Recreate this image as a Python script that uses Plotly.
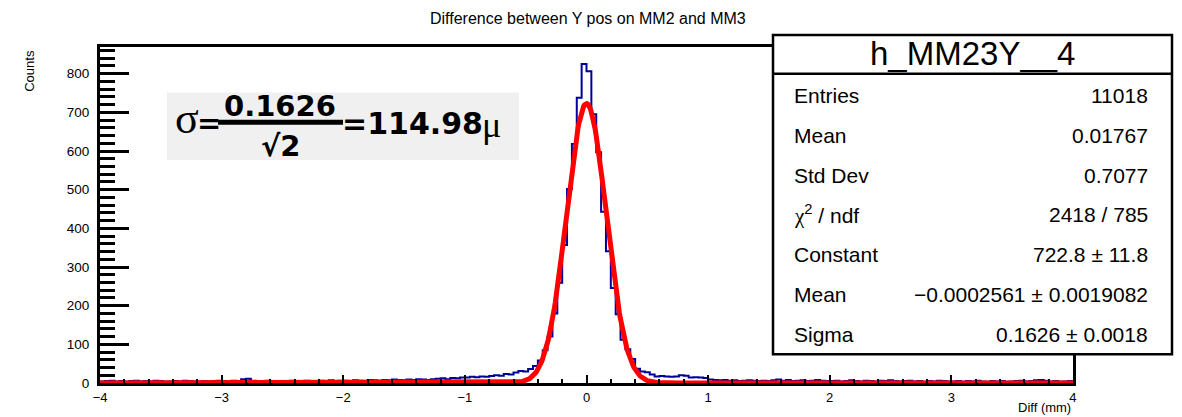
import numpy as np
import plotly.graph_objects as go

# ---------------- data ----------------
x_lo, x_hi, n_bins = -4.0, 4.0, 200

counts = [
    # -4.00 .. -3.00
    4, 5, 6, 4, 5, 3, 5, 6, 4, 5, 4, 6, 5, 3, 4, 5, 4, 6, 5, 4, 3, 5, 4, 5, 6,
    # -3.00 .. -2.00
    5, 4, 6, 5, 10, 11, 6, 4, 5, 6, 4, 5, 3, 5, 6, 4, 5, 6, 5, 4, 6, 5, 7, 5, 6,
    # -2.00 .. -1.00
    6, 5, 7, 6, 5, 8, 7, 6, 8, 7, 9, 8, 7, 9, 8, 10, 9, 8, 10, 11, 12, 10, 13, 12, 14,
    # -1.00 .. -0.48
    14, 16, 15, 17, 16, 18, 20, 19, 23, 22, 27, 31, 30,
    # -0.48 .. 0.00
    36, 44, 58, 85, 120, 180, 259, 357, 502, 618, 738, 825,
    # 0.00 .. 0.48
    806, 695, 597, 443, 341, 246, 178, 112, 87, 62, 37, 30,
    # 0.48 .. 1.00
    28, 22, 17, 18, 17, 16, 17, 20, 19, 14, 15, 14, 13,
    # 1.00 .. 2.00
    9, 8, 7, 8, 6, 7, 5, 6, 7, 6, 5, 6, 5, 7, 9, 6, 8, 5, 6, 7, 5, 6, 8, 6, 5,
    # 2.00 .. 3.00
    5, 6, 4, 5, 7, 5, 4, 6, 5, 4, 6, 5, 7, 5, 4, 5, 6, 4, 5, 3, 5, 4, 6, 5, 4,
    # 3.00 .. 4.00
    4, 5, 3, 5, 4, 6, 4, 3, 5, 4, 5, 3, 4, 5, 6, 4, 5, 7, 8, 6, 4, 5, 3, 4, 5,
]

fit_const = 722.8
fit_mean = -0.0002561
fit_sigma = 0.1626

hist_name = "h_MM23Y__4"
title_text = "Difference between Y pos on MM2 and MM3"
x_title = "Diff (mm)"
y_title = "Counts"

stat_labels = ["Entries", "Mean", "Std Dev",
               "<span style=\"font-family:'Liberation Serif'\">χ</span><sup>2</sup> / ndf",
               "Constant", "Mean", "Sigma"]
stat_values = ["11018", "0.01767", "0.7077", "2418 / 785", "722.8 ± 11.8",
               "−0.0002561 ± 0.0019082", "0.1626 ± 0.0018"]

formula_num = "0.1626"
formula_den = "√2"
formula_res = "=114.98"

# ---------------- layout geometry ----------------
W, H = 1182, 417
L, R, T, B = 100, 109, 47, 31
PW = W - L - R
PH = H - T - B


def px(x):
    return (x - L) / PW


def py(y):
    return (H - B - y) / PH


edges = np.linspace(x_lo, x_hi, n_bins + 1)
step_y = list(counts) + [counts[-1]]

xf = np.linspace(x_lo, x_hi, 1200)
yf = fit_const * np.exp(-0.5 * ((xf - fit_mean) / fit_sigma) ** 2)

fig = go.Figure()
fig.add_trace(go.Scatter(x=edges, y=step_y, mode="lines", line_shape="hv",
                         line=dict(color="#000099", width=2), showlegend=False,
                         hoverinfo="skip"))
fig.add_trace(go.Scatter(x=xf, y=yf, mode="lines",
                         line=dict(color="#ff0000", width=5), showlegend=False,
                         hoverinfo="skip"))

font_main = "Liberation Sans, Arial, Helvetica, sans-serif"

fig.update_layout(
    width=W, height=H,
    margin=dict(l=L, r=R, t=T, b=B, pad=0),
    paper_bgcolor="white", plot_bgcolor="white",
    font=dict(family=font_main, color="black", size=13),
    showlegend=False,
)

fig.update_xaxes(
    range=[x_lo - 0.0005, x_hi + 0.0005], showgrid=False, zeroline=False,
    showline=True, linecolor="black", linewidth=3, mirror=True,
    ticks="inside", ticklen=8, tickwidth=2, tickcolor="black",
    tickmode="linear", tick0=-4, dtick=1,
    minor=dict(ticks="inside", ticklen=4, tickwidth=2, tickcolor="black", dtick=0.2, tick0=-4,
               showgrid=False),
    tickfont=dict(size=13, family=font_main),
)
fig.update_yaxes(
    range=[0, 869], showgrid=False, zeroline=False,
    showline=True, linecolor="black", linewidth=3, mirror=True,
    ticks="inside", ticklen=29, tickwidth=3, tickcolor="black",
    tickmode="linear", tick0=0, dtick=100,
    minor=dict(ticks="inside", ticklen=15, tickwidth=3, tickcolor="black", dtick=20, tick0=0,
               showgrid=False),
    tickfont=dict(size=13.5, family=font_main),
    ticklabelstandoff=5,
)

shapes = []
annotations = []

# main title
annotations.append(dict(x=px(588), y=py(18), xref="paper", yref="paper", text=title_text,
                        showarrow=False, xanchor="center", yanchor="middle",
                        font=dict(size=16, family=font_main)))
# axis titles
annotations.append(dict(x=px(30), y=py(71), xref="paper", yref="paper", text=y_title,
                        showarrow=False, textangle=-90, xanchor="center", yanchor="middle",
                        font=dict(size=13, family=font_main)))
annotations.append(dict(x=px(1073), y=py(411), xref="paper", yref="paper", text=x_title,
                        showarrow=False, xanchor="right", yanchor="middle",
                        font=dict(size=13, family=font_main)))

# formula box
shapes.append(dict(type="rect", xref="paper", yref="paper",
                   x0=px(167), x1=px(519), y0=py(161), y1=py(93),
                   fillcolor="#f0f0f0", line=dict(width=0), layer="above"))
shapes.append(dict(type="line", xref="paper", yref="paper",
                   x0=px(218), x1=px(343), y0=py(123), y1=py(123),
                   line=dict(color="black", width=5), layer="above"))
annotations.append(dict(x=px(187), y=py(119), xref="paper", yref="paper", text="σ",
                        showarrow=False, xanchor="center", yanchor="middle",
                        font=dict(size=44, family="Liberation Serif, Times New Roman, serif")))
annotations.append(dict(x=px(209), y=py(124), xref="paper", yref="paper", text="<b>=</b>",
                        showarrow=False, xanchor="center", yanchor="middle",
                        font=dict(size=29, family="DejaVu Sans")))
annotations.append(dict(x=px(280), y=py(107), xref="paper", yref="paper",
                        text="<b>" + formula_num + "</b>",
                        showarrow=False, xanchor="center", yanchor="middle",
                        font=dict(size=29, family="DejaVu Sans")))
annotations.append(dict(x=px(281), y=py(147), xref="paper", yref="paper",
                        text="<b>" + formula_den + "</b>",
                        showarrow=False, xanchor="center", yanchor="middle",
                        font=dict(size=29, family="DejaVu Sans")))
annotations.append(dict(x=px(340), y=py(124), xref="paper", yref="paper",
                        text="<b>" + formula_res + "</b>",
                        showarrow=False, xanchor="left", yanchor="middle",
                        font=dict(size=30, family="DejaVu Sans")))
annotations.append(dict(x=px(480), y=py(126), xref="paper", yref="paper", text="μ",
                        showarrow=False, xanchor="left", yanchor="middle",
                        font=dict(size=36, family="Liberation Serif, Times New Roman, serif")))

# stats box
shapes.append(dict(type="rect", xref="paper", yref="paper",
                   x0=px(773), x1=px(1172), y0=py(357), y1=py(35),
                   fillcolor="white", line=dict(color="black", width=2.5), layer="above"))
shapes.append(dict(type="line", xref="paper", yref="paper",
                   x0=px(773), x1=px(1172), y0=py(74), y1=py(74),
                   line=dict(color="black", width=2.5), layer="above"))
annotations.append(dict(x=px(972), y=py(54), xref="paper", yref="paper", text=hist_name,
                        showarrow=False, xanchor="center", yanchor="middle",
                        font=dict(size=33, family=font_main)))
for i, (lab, val) in enumerate(zip(stat_labels, stat_values)):
    yc = 96 + 40.1 * i
    annotations.append(dict(x=px(792), y=py(yc), xref="paper", yref="paper", text=lab,
                            showarrow=False, xanchor="left", yanchor="middle",
                            font=dict(size=21, family=font_main)))
    annotations.append(dict(x=px(1150), y=py(yc), xref="paper", yref="paper", text=val,
                            showarrow=False, xanchor="right", yanchor="middle",
                            font=dict(size=21, family=font_main)))

fig.update_layout(shapes=shapes, annotations=annotations)
fig.write_html("out.html")
